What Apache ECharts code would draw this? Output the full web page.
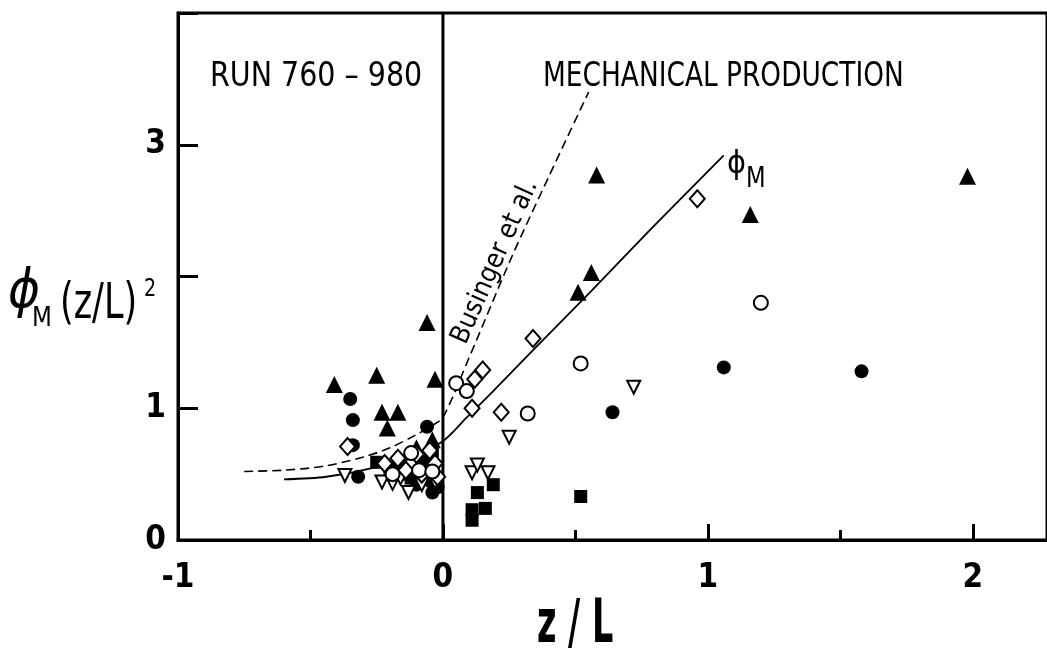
<!DOCTYPE html>
<html>
<head>
<meta charset="utf-8">
<script src="https://cdn.jsdelivr.net/npm/echarts@6/dist/echarts.min.js"></script>
<style>html,body{margin:0;padding:0;background:#fff}#c{width:1047px;height:653px}</style>
</head>
<body>
<div id="c"></div>
<script>
// ---- data ----
var filledTriangles = [[-0.41,1.18],[-0.25,1.25],[-0.23,0.97],[-0.17,0.97],[-0.21,0.85],[-0.03,1.22],[-0.06,1.65],[-0.04,0.76],[-0.06,0.62],[-0.10,0.70],[0.51,1.88],[0.56,2.03],[0.58,2.77],[1.16,2.47],[1.98,2.76]];
var filledCircles = [[-0.35,1.07],[-0.34,0.91],[-0.34,0.72],[-0.32,0.48],[-0.06,0.86],[-0.04,0.36],[-0.18,0.55],[-0.13,0.50],[-0.08,0.62],[-0.05,0.45],[-0.10,0.42],[-0.15,0.60],[-0.06,0.55],[-0.02,0.40],[0.64,0.97],[1.06,1.31],[1.58,1.28]];
var filledSquares = [[-0.25,0.59],[-0.20,0.52],[-0.15,0.50],[-0.08,0.58],[-0.04,0.65],[-0.12,0.47],[0.11,0.15],[0.11,0.23],[0.16,0.24],[0.13,0.36],[0.19,0.42],[0.52,0.33]];
var openCircles = [[0.05,1.19],[0.09,1.13],[0.32,0.96],[0.52,1.34],[1.20,1.80],[-0.19,0.50],[-0.09,0.53],[-0.04,0.52],[-0.12,0.66]];
var openDiamonds = [[-0.36,0.71],[0.11,1.00],[0.12,1.22],[0.15,1.29],[0.22,0.97],[0.34,1.53],[0.96,2.59],[-0.22,0.58],[-0.17,0.62],[-0.12,0.58],[-0.08,0.50],[-0.03,0.58],[-0.05,0.68],[-0.10,0.65],[-0.14,0.53],[-0.02,0.48]];
var openTrianglesDown = [[-0.37,0.49],[-0.23,0.44],[-0.19,0.43],[-0.13,0.36],[-0.08,0.42],[-0.03,0.44],[-0.16,0.47],[0.11,0.51],[0.13,0.57],[0.17,0.51],[0.25,0.78],[0.72,1.16]];
var bisingerCurve = [[-0.75,0.52],[-0.60,0.53],[-0.45,0.56],[-0.30,0.63],[-0.20,0.70],[-0.10,0.80],[-0.04,0.87],[0,0.93],[0.10,1.39],[0.26,2.15],[0.40,2.76],[0.55,3.40]];
var phiMCurve = [[-0.60,0.46],[-0.44,0.48],[-0.26,0.55],[-0.11,0.65],[0,0.75],[0.09,0.93],[0.185,1.12],[0.33,1.42],[0.555,1.88],[0.78,2.35],[1.06,2.92]];
var xTickLabels = {'-1':'-1','0':'0','1':'1','2':'2'};
var yTickLabels = {'0':'0','1':'1','3':'3'};
var texts = {run:'RUN 760 \u2013 980', mech:'MECHANICAL PRODUCTION', businger:'Businger et al.', xTitle:'z / L',
             phi:'\u03D5', sub:'M', arg:'(z/L)', sup:'2'};

var FONT = "'Liberation Sans Narrow','DejaVu Sans Condensed','Arial Narrow',sans-serif";
var chart = echarts.init(document.getElementById('c'));

function scatter(name, data, symbol, size, filled, rotate) {
  return {
    name: name, type: 'scatter', data: data, symbol: symbol, symbolSize: size,
    symbolRotate: rotate || 0, z: filled ? 3 : 4,
    itemStyle: filled ? {color:'#000', opacity:1} : {color:'#fff', borderColor:'#000', borderWidth:2, opacity:1}
  };
}
function txt(s, x, y, font, sx, extra) {
  var st = {text:s, font:font, fill:'#000', align:'left', verticalAlign:'middle'};
  if (extra) for (var k in extra) st[k] = extra[k];
  return {type:'text', x:x, y:y, scaleX:sx || 1, style:st, z:10};
}

var option = {
  animation: false,
  backgroundColor: '#fff',
  grid: {left:178, top:13, right:0, bottom:113, show:true, borderColor:'#000', borderWidth:3},
  xAxis: {
    type:'value', min:-1, max:2.28, interval:1,
    axisLine:{show:true, onZero:false, lineStyle:{color:'#000', width:3}},
    axisTick:{show:true, inside:true, length:16, lineStyle:{color:'#000', width:3}},
    minorTick:{show:true, splitNumber:2, length:10, lineStyle:{color:'#000', width:3}},
    splitLine:{show:false},
    axisLabel:{margin:22, color:'#000', fontFamily:FONT, fontWeight:'bold', fontSize:33, showMaxLabel:false,
      formatter:function(v){ return xTickLabels[String(v)] || ''; }}
  },
  yAxis: {
    type:'value', min:0, max:4, interval:1,
    axisLine:{show:true, onZero:false, lineStyle:{color:'#000', width:3}},
    axisTick:{show:true, inside:true, length:20, lineStyle:{color:'#000', width:3}},
    splitLine:{show:false},
    axisLabel:{margin:12, color:'#000', fontFamily:FONT, fontWeight:'bold', fontSize:33,
      formatter:function(v){ return yTickLabels[String(v)] || ''; }}
  },
  series: [
    {type:'line', data:[[0,0],[0,4]], symbol:'none', lineStyle:{color:'#000', width:3}, z:2, silent:true},
    {type:'line', data:bisingerCurve, symbol:'none', smooth:0.3, lineStyle:{color:'#000', width:1.6, type:[9,5]}, z:2},
    {type:'line', data:phiMCurve, symbol:'none', smooth:0.3, lineStyle:{color:'#000', width:1.8}, z:2},
    scatter('filled triangle', filledTriangles, 'triangle', 17, true),
    scatter('filled circle', filledCircles, 'circle', 14, true),
    scatter('filled square', filledSquares, 'rect', 13, true),
    scatter('open triangle', openTrianglesDown, 'triangle', 13, false, 180),
    scatter('open diamond', openDiamonds, 'diamond', [15,17], false),
    scatter('open circle', openCircles, 'circle', 14, false)
  ],
  graphic: [
    txt(texts.run, 210, 77, "normal 33px "+FONT, 0.96),
    txt(texts.mech, 543, 77, "normal 33px "+FONT, 0.89),
    {type:'text', x:495, y:262, rotation:66*Math.PI/180, z:10,
      style:{text:texts.businger, font:"normal 27px "+FONT, fill:'#000', align:'center', verticalAlign:'middle'}},
    txt(texts.phi, 727, 165, "normal 32px "+FONT, 1),
    txt(texts.sub, 746, 180, "normal 28px "+FONT, 0.9),
    txt(texts.phi, 8, 293, "italic 54px "+FONT, 1),
    txt(texts.sub, 32, 319, "normal 27px "+FONT, 0.95),
    txt(texts.arg, 60, 305, "normal 50px "+FONT, 0.78),
    txt(texts.sup, 144, 289, "normal 25px "+FONT, 0.85),
    txt(texts.xTitle, 537, 626, "bold 60px "+FONT, 0.62)
  ]
};
chart.setOption(option);
</script>
</body>
</html>
